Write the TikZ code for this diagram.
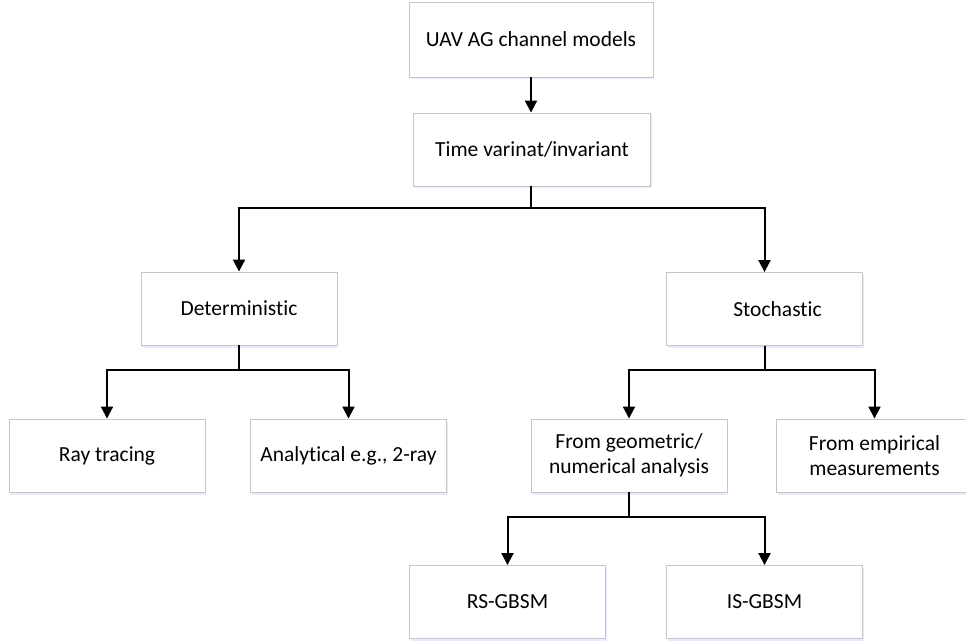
\documentclass[tikz,border=0pt]{standalone}
\usepackage{fontspec}
\setmainfont[Ligatures=NoCommon]{Carlito}
\usetikzlibrary{arrows.meta,shadows}

\tikzset{
  box/.style={draw=gray!45, line width=0.9pt, fill=white, minimum width=196pt,
    minimum height=73pt, align=center, inner sep=2pt,
    drop shadow={shadow xshift=1pt, shadow yshift=-2.5pt, fill=blue!10, opacity=0.8}},
  arr/.style={line width=2pt, -{Triangle[width=12pt,length=12pt]}},
  link/.style={line width=2pt}
}

\begin{document}
\begin{tikzpicture}[x=1pt, y=-1pt, font=\fontsize{21.5}{25}\selectfont]
        \useasboundingbox (0,0) rectangle (966,644);

        \node[box, minimum width=244pt, minimum height=75pt] (top) at (531, 39.5) {UAV AG channel models};
        \node[box, minimum width=237pt] (tv) at (532, 149.5) {Time varinat/invariant};
        \node[box] (det) at (239, 308.5) {Deterministic};
        \node[box] (sto) at (764.5, 309) {\hspace*{26pt}Stochastic};
        \node[box] (ray) at (107, 455.5) {Ray tracing};
        \node[box] (ana) at (348.5, 455.5) {Analytical e.g., 2-ray};
        \node[box] (geo) at (629, 455.5) {From geometric/\\numerical analysis};
        \node[box] (emp) at (874.5, 455.5) {From empirical\\measurements};
        \node[box] (rs) at (507.5, 602) {RS-GBSM};
        \node[box] (is) at (764.5, 602) {IS-GBSM};

        \coordinate (j1) at (531, 208.5);
        \coordinate (j2) at (239, 370);
        \coordinate (j3) at (764.5, 370);
        \coordinate (j4) at (629, 517);

        \draw[arr] (top.south -| j1) -- (tv.north -| j1);

        \draw[link] (tv.south -| j1) -- (j1);
        \draw[arr] (j1) -| (det.north);
        \draw[arr] (j1) -| (sto.north);

        \draw[link] (det.south) -- (j2);
        \draw[arr] (j2) -| (ray.north);
        \draw[arr] (j2) -| (ana.north);

        \draw[link] (sto.south) -- (j3);
        \draw[arr] (j3) -| (geo.north);
        \draw[arr] (j3) -| (emp.north);

        \draw[link] (geo.south) -- (j4);
        \draw[arr] (j4) -| (rs.north);
        \draw[arr] (j4) -| (is.north);

\end{tikzpicture}
\end{document}
